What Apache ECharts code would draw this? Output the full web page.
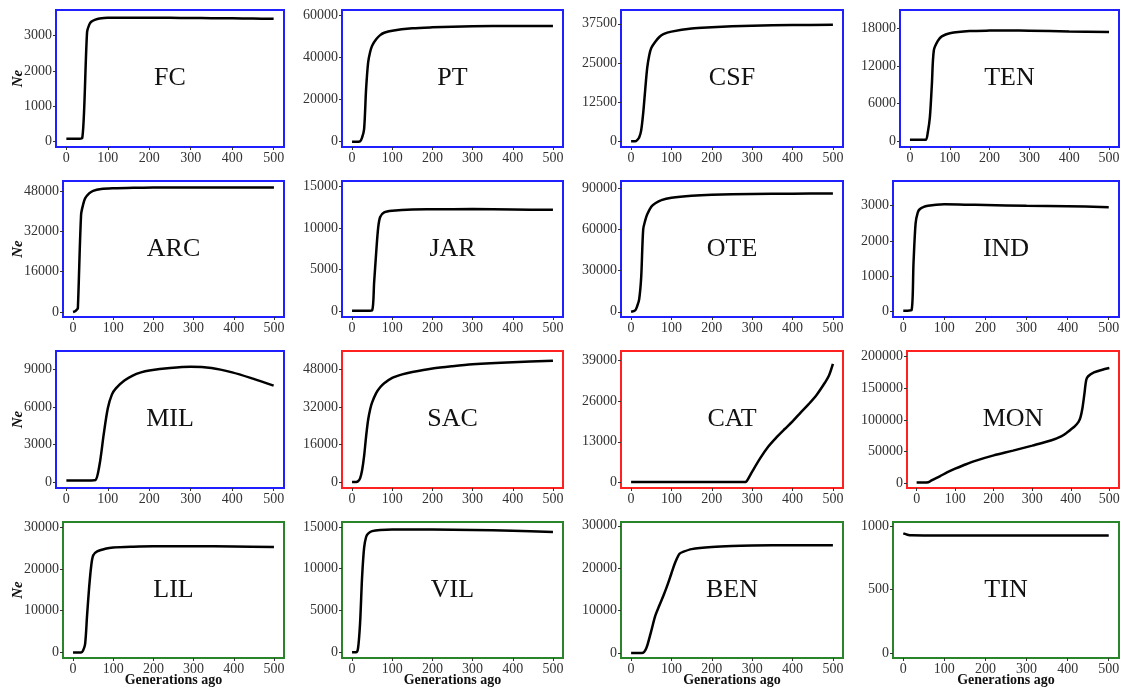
<!DOCTYPE html>
<html><head><meta charset="utf-8">
<script src="https://cdn.jsdelivr.net/npm/echarts@6/dist/echarts.min.js"></script>
<style>html,body{margin:0;padding:0;background:#fff}#c{width:1123px;height:689px}</style>
</head><body><div id="c"></div>
<script>
// ---------- data (generations ago, Ne) ----------
const panelNames = ['FC','PT','CSF','TEN','ARC','JAR','OTE','IND','MIL','SAC','CAT','MON','LIL','VIL','BEN','TIN'];

const FC  = [[0,80],[10,80],[20,80],[30,82],[38,90],[50,3100],[55,3300],[60,3390],[70,3450],[80,3480],[100,3500],[150,3502],[200,3500],[250,3498],[300,3495],[350,3490],[400,3485],[450,3478],[500,3470]];
const PT  = [[0,0],[10,0],[20,200],[25,2000],[30,6000],[35,25000],[40,37500],[45,42500],[50,45500],[60,48500],[70,50500],[80,51600],[100,52600],[150,53700],[200,54200],[250,54500],[300,54700],[400,54800],[500,54800]];
const CSF = [[0,0],[10,0],[15,400],[20,1200],[25,3500],[30,9000],[35,16500],[40,23500],[45,27500],[50,29800],[60,31800],[70,33300],[80,34200],[100,35000],[150,36000],[200,36400],[250,36700],[300,36900],[400,37100],[500,37200]];
const TEN = [[0,250],[10,250],[20,250],[30,250],[40,260],[45,1500],[50,3800],[55,9000],[60,14500],[70,16000],[80,16700],[100,17200],[150,17550],[200,17620],[250,17630],[300,17600],[400,17480],[500,17380]];
const ARC = [[0,0],[5,300],[10,1000],[12,1500],[20,38500],[25,42500],[30,45000],[40,47000],[50,48000],[70,48700],[100,49000],[150,49200],[200,49300],[300,49350],[400,49350],[500,49300]];
const JAR = [[0,100],[10,100],[20,100],[30,100],[40,100],[50,150],[55,3500],[60,7000],[65,10000],[70,11300],[80,11850],[100,12050],[150,12200],[200,12220],[300,12250],[400,12200],[500,12150]];
const OTE = [[0,0],[10,1000],[15,4000],[20,9000],[25,25000],[30,60000],[35,66500],[40,71000],[50,76500],[60,79000],[75,81300],[100,83000],[150,84500],[200,85200],[300,85700],[400,86000],[500,86100]];
const IND = [[0,30],[10,30],[20,40],[25,1400],[30,2500],[35,2800],[40,2900],[50,2970],[60,3000],[80,3030],[100,3040],[150,3030],[200,3020],[300,3000],[400,2985],[500,2960]];
const MIL = [[0,150],[20,150],[40,150],[60,150],[70,170],[80,1400],[90,3800],[100,5900],[110,7000],[120,7500],[140,8100],[160,8500],[180,8750],[200,8900],[250,9100],[300,9200],[350,9100],[400,8750],[450,8250],[500,7700]];
const SAC = [[0,0],[10,0],[15,300],[20,1500],[25,5000],[30,11000],[35,19500],[40,26500],[45,31000],[50,34000],[60,38000],[70,40500],[80,42200],[100,44500],[125,46000],[150,47000],[200,48500],[250,49500],[300,50300],[400,51200],[500,51800]];
const CAT = [[0,200],[100,200],[200,200],[280,200],[285,300],[290,1200],[300,3500],[320,7800],[340,11500],[360,14400],[380,17000],[400,19500],[420,22300],[440,25000],[460,28000],[480,31800],[490,34000],[500,37800]];
const MON = [[0,1000],[10,1000],[20,1000],[30,1500],[40,5000],[60,11000],[80,17500],[100,23000],[120,28000],[150,35000],[200,44000],[250,51500],[300,59500],[350,68000],[375,74000],[390,80000],[400,85000],[410,90000],[420,97000],[425,104000],[430,118000],[435,140000],[440,163000],[445,169000],[460,175000],[480,179000],[500,182000]];
const LIL = [[0,0],[10,0],[20,0],[25,500],[30,2000],[35,9000],[40,15500],[45,20500],[50,23200],[60,24200],[80,24800],[100,25100],[150,25300],[200,25400],[300,25400],[400,25350],[500,25200]];
const VIL = [[0,0],[10,0],[15,500],[20,3500],[25,9000],[30,12500],[35,13800],[40,14200],[50,14500],[70,14650],[100,14700],[200,14700],[300,14650],[400,14550],[500,14400]];
const BEN = [[0,0],[10,0],[20,0],[30,50],[35,600],[40,1700],[50,5200],[60,8800],[70,11200],[80,13500],[90,16000],[100,18800],[110,21500],[120,23400],[130,23900],[150,24500],[200,25000],[250,25250],[300,25350],[400,25400],[500,25400]];
const TIN = [[0,942],[10,932],[20,927],[50,926],[100,926],[200,925],[300,925],[400,925],[500,925]];

const seriesData = [FC,PT,CSF,TEN,ARC,JAR,OTE,IND,MIL,SAC,CAT,MON,LIL,VIL,BEN,TIN];

// tick labels
const xTicks = [0,100,200,300,400,500];
const yTicks = [
  [0,1000,2000,3000],[0,20000,40000,60000],[0,12500,25000,37500],[0,6000,12000,18000],
  [0,16000,32000,48000],[0,5000,10000,15000],[0,30000,60000,90000],[0,1000,2000,3000],
  [0,3000,6000,9000],[0,16000,32000,48000],[0,13000,26000,39000],[0,50000,100000,150000,200000],
  [0,10000,20000,30000],[0,5000,10000,15000],[0,10000,20000,30000],[0,500,1000]
];
// axis extents
const xRange = [-25,525];
const yRanges = [
  [-150,3720],[-2500,62400],[-1800,41900],[-900,20900],
  [-2000,51900],[-650,15600],[-3800,95200],[-150,3700],
  [-450,10450],[-2600,56000],[-1700,41900],[-7500,208900],
  [-1300,31200],[-700,15600],[-1200,30900],[-40,1032]
];
const xTitle = 'Generations ago';
const yTitle = 'Ne';

// ---------- layout / style ----------
const rowTop = [10,181,351,522], rowBot = [147,317,488,658];
const colRight = [284,563,843,1119];
const boxLeft = [56,342,621,900, 63,342,621,893, 56,342,621,907, 63,342,621,893];
const borderCol = i => i < 9 ? '#1f1fff' : (i < 12 ? '#ff2020' : '#2a852a');
const FONT = 'Liberation Serif';
const W = 1123, H = 689;
const plain = v => String(v);

const grids=[], xAxes=[], yAxes=[], series=[], graphics=[];
panelNames.forEach((name,i)=>{
  const r = Math.floor(i/4), c = i%4;
  const L = boxLeft[i], R = colRight[c], T = rowTop[r], B = rowBot[r];
  grids.push({left:L, top:T, width:R-L, height:B-T, show:true, borderColor:borderCol(i), borderWidth:2, backgroundColor:'#fff', containLabel:false});
  xAxes.push({type:'value', gridIndex:i, min:xRange[0], max:xRange[1],
    axisLine:{show:false,onZero:false}, splitLine:{show:false},
    axisTick:{show:true,length:3,customValues:xTicks,lineStyle:{color:'#333',width:1}},
    axisLabel:{customValues:xTicks,margin:4,fontFamily:FONT,fontSize:14,color:'#333',formatter:plain}});
  yAxes.push({type:'value', gridIndex:i, min:yRanges[i][0], max:yRanges[i][1],
    axisLine:{show:false,onZero:false}, splitLine:{show:false},
    axisTick:{show:true,length:3,customValues:yTicks[i],lineStyle:{color:'#333',width:1}},
    axisLabel:{customValues:yTicks[i],margin:4,fontFamily:FONT,fontSize:14,color:'#333',formatter:plain}});
  series.push({type:'line', xAxisIndex:i, yAxisIndex:i, data:seriesData[i], showSymbol:false,
    smooth:0.3, lineStyle:{color:'#000',width:2.5}, silent:true, animation:false});
  graphics.push({type:'text', x:(L+R)/2, y:(T+B)/2, silent:true,
    style:{text:name, font:'26px "Liberation Serif"', fill:'#111', textAlign:'center', textVerticalAlign:'middle', align:'center', verticalAlign:'middle'}});
  if (c===0) {
    graphics.push({type:'text', x:18, y:(T+B)/2, rotation:Math.PI/2, silent:true,
      style:{text:yTitle, font:'italic bold 15px "Liberation Serif"', fill:'#111', textAlign:'center', textVerticalAlign:'middle', align:'center', verticalAlign:'middle'}});
  }
  if (r===3) {
    graphics.push({type:'text', x:(L+R)/2, y:680, silent:true,
      style:{text:xTitle, font:'bold 14px "Liberation Serif"', fill:'#111', textAlign:'center', textVerticalAlign:'middle', align:'center', verticalAlign:'middle'}});
  }
});

const chart = echarts.init(document.getElementById('c'), null, {renderer:'canvas', width:W, height:H});
chart.setOption({backgroundColor:'#fff', animation:false, grid:grids, xAxis:xAxes, yAxis:yAxes, series:series, graphic:graphics});
</script></body></html>
